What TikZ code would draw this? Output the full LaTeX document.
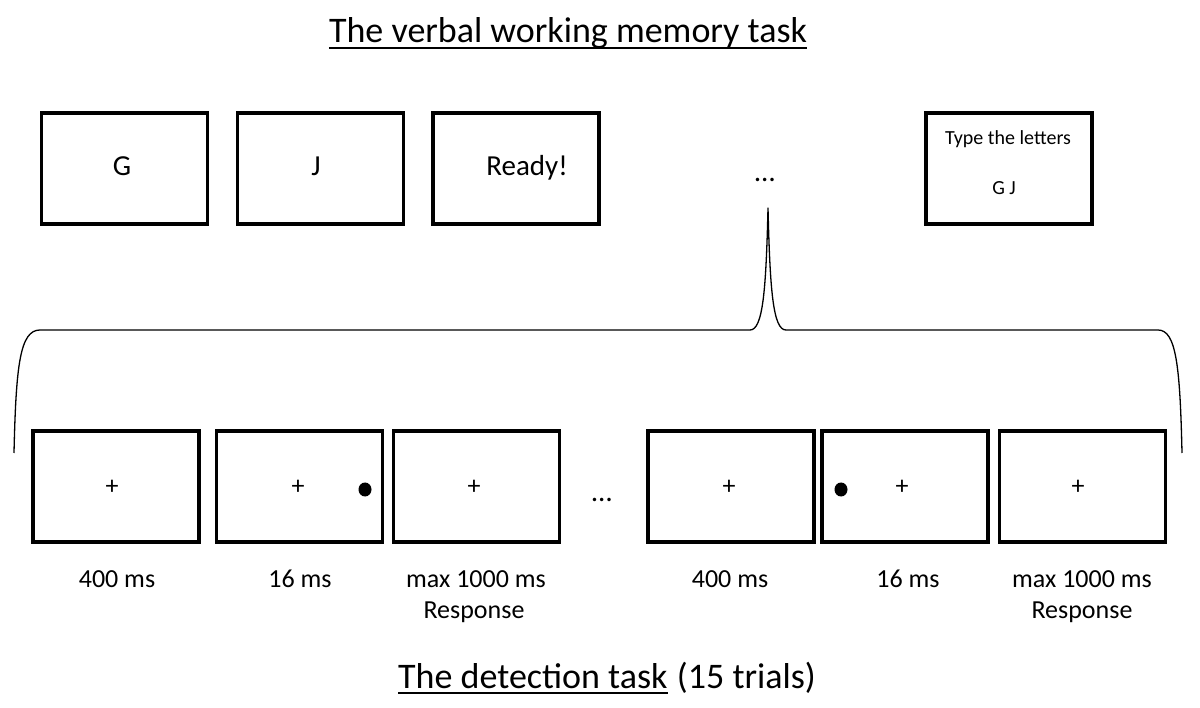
\documentclass[tikz,border=0pt]{standalone}
\usepackage{fontspec}
\usetikzlibrary{shapes.geometric}
\setmainfont{Carlito}
\begin{document}
\begin{tikzpicture}[x=1pt,y=-1pt,
  scr/.style={draw,line width=3.2pt,minimum width=166pt,minimum height=111pt,inner sep=0pt},
  lbl/.style={font=\fontsize{26}{30}\selectfont,inner sep=0pt,anchor=base},
  big/.style={font=\fontsize{29}{34}\selectfont,inner sep=0pt,anchor=base},
  small/.style={font=\fontsize{20}{24}\selectfont,inner sep=0pt,anchor=base},
  ttl/.style={font=\fontsize{36}{42}\selectfont,inner sep=0pt,anchor=base},
  cross/.style={font=\fontsize{26}{30}\selectfont,inner sep=0pt},
  dotm/.style={fill=black,ellipse,minimum width=13pt,minimum height=14pt,inner sep=0pt},
  brace/.style={line width=1.3pt,line join=round}]
\useasboundingbox (0,0) rectangle (1200,708);
% titles
\node[ttl] (t1) at (568,43) {The verbal working memory task};
\draw[line width=2pt] ([yshift=-5pt]t1.base west) -- ([yshift=-5pt]t1.base east);
\node[ttl,anchor=base west] (t2a) at (398,688) {The detection task};
\node[ttl,anchor=base west] (t2b) at ([xshift=9pt]t2a.base east) {(15 trials)};
\draw[line width=2pt] ([yshift=-5pt]t2a.base west) -- ([yshift=-5pt]t2a.base east);
% top screens
\node[scr] (w1) at (124.5,168.5) {};
\node[scr] (w2) at (320.5,168.5) {};
\node[scr] (w3) at (516,168.5) {};
\node[scr] (w4) at (1009,168.5) {};
\node[big] (g1) at (122,176) {G};
\node[big] (g2) at (316,176) {J};
\node[big] (g3) at (527,176) {Ready!};
\node[small] (g4) at (1008,145) {Type the letters};
\node[small] (g5) at (1004,195) {G J};
\node[big] (tdots) at (765,182) {\dots};
% brace
\coordinate (bl) at (14,453);
\coordinate (br) at (1182,453);
\coordinate (tip) at (768,208);
\draw[brace] (bl) .. controls (16,365) and (20,330) .. (40,330)
  -- (750,330) .. controls (763,330) and (766,290) .. (tip)
  .. controls (770,290) and (773,330) .. (786,330)
  -- (1158,330) .. controls (1176,330) and (1180,365) .. (br);
% bottom screens
\node[scr] (d1) at (116,486.5) {};
\node[scr] (d2) at (299.5,486.5) {};
\node[scr] (d3) at (476.5,486.5) {};
\node[scr] (d4) at (731,486.5) {};
\node[scr] (d5) at (905,486.5) {};
\node[scr] (d6) at (1082.5,486.5) {};
\node[cross] (c1) at (112,487) {+};
\node[cross] (c2) at (298,487) {+};
\node[cross] (c3) at (474,487) {+};
\node[cross] (c4) at (729,487) {+};
\node[cross] (c5) at (902,487) {+};
\node[cross] (c6) at (1078,487) {+};
\node[dotm] (p1) at (365,489.5) {};
\node[dotm] (p2) at (841,489.5) {};
\node[big] (bdots) at (602,501) {\dots};
% labels
\node[lbl] (l1) at (117,587) {400 ms};
\node[lbl] (l2) at (300,587) {16 ms};
\node[lbl] (l3) at (476,587) {max 1000 ms};
\node[lbl] (l3b) at (474,618) {Response};
\node[lbl] (l4) at (730,587) {400 ms};
\node[lbl] (l5) at (908,587) {16 ms};
\node[lbl] (l6) at (1082,587) {max 1000 ms};
\node[lbl] (l6b) at (1082,618) {Response};
\end{tikzpicture}
\end{document}
